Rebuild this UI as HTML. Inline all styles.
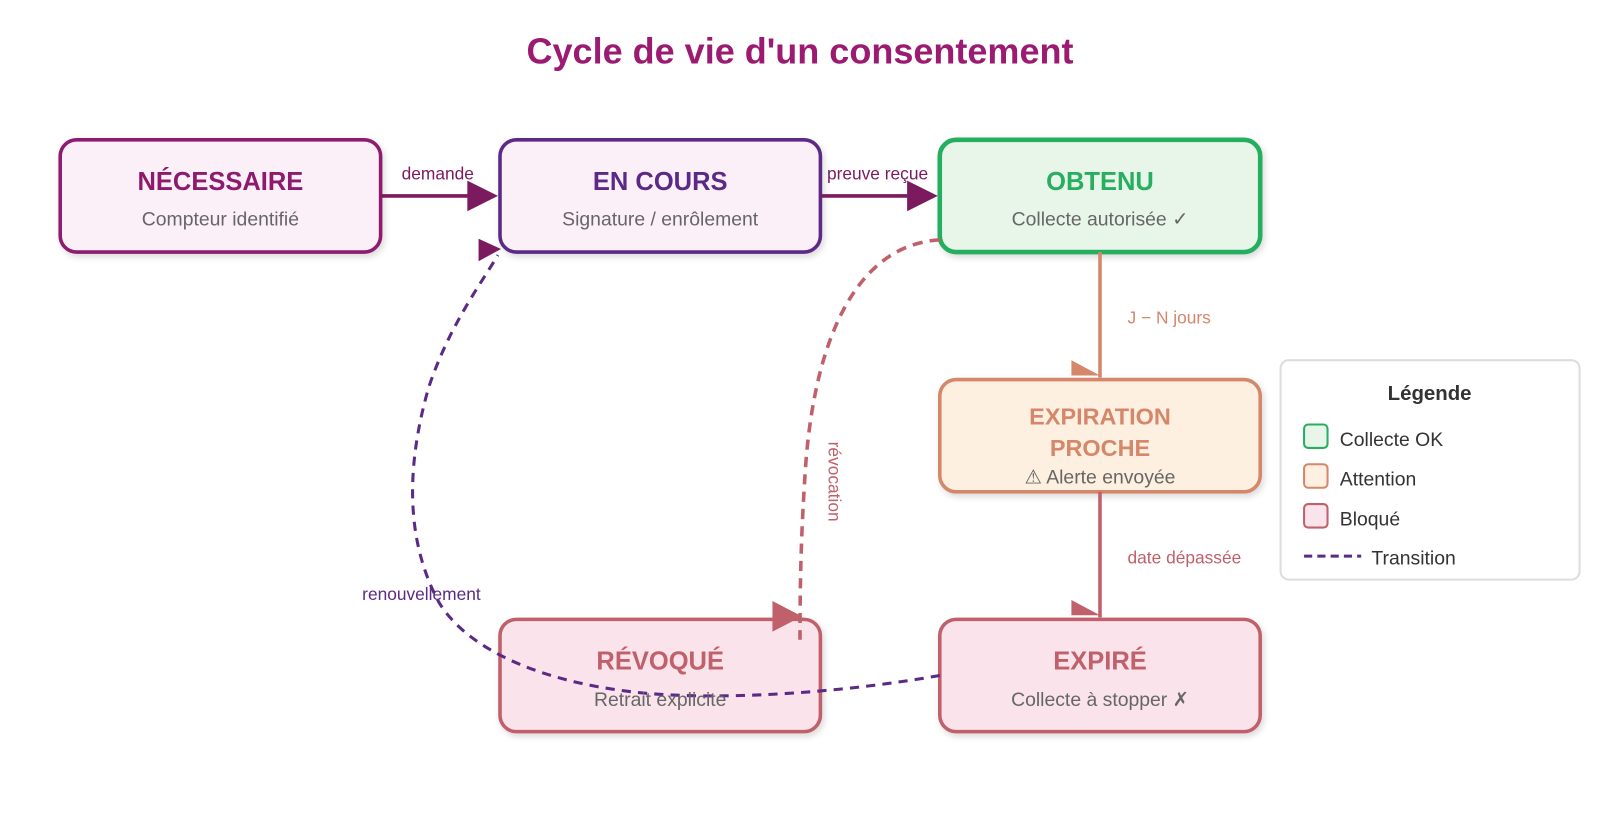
<!DOCTYPE html>
<html><head><meta charset="utf-8"><style>
body{margin:0;background:#fff;}
svg{display:block;font-family:"Liberation Sans",sans-serif;}
</style></head><body>
<svg width="1600" height="840" viewBox="0 0 1600 840">
<defs>
<filter id="sh" x="-10%" y="-10%" width="120%" height="130%"><feDropShadow dx="2" dy="3" stdDeviation="3" flood-opacity="0.15"/></filter>
</defs>
<g transform="scale(1.0204)">
<text x="784" y="62" text-anchor="middle" font-size="35.3" font-weight="bold" fill="#9b1b72">Cycle de vie d'un consentement</text>

<g filter="url(#sh)" stroke-width="3.5">
<rect x="59" y="137" width="314" height="110" rx="16" fill="#fcf0f8" stroke="#8e1a6e"/>
<rect x="490" y="137" width="314" height="110" rx="16" fill="#fcf0f8" stroke="#5b2a86"/>
<rect x="921" y="137" width="314" height="110" rx="16" fill="#e8f6ea" stroke="#27ae60" stroke-width="4.5"/>
<rect x="921" y="372" width="314" height="110" rx="16" fill="#fef0e0" stroke="#d4876a"/>
<rect x="490" y="607" width="314" height="110" rx="16" fill="#fae3ea" stroke="#c0606a"/>
<rect x="921" y="607" width="314" height="110" rx="16" fill="#fae3ea" stroke="#c0606a"/>
</g>
<g text-anchor="middle">
<text x="216" y="186" font-size="25" font-weight="bold" fill="#8e1a6e">NÉCESSAIRE</text>
<text x="216" y="221" font-size="19" fill="#666">Compteur identifié</text>
<text x="647" y="186" font-size="25" font-weight="bold" fill="#5b2a86">EN COURS</text>
<text x="647" y="221" font-size="19" fill="#666">Signature / enrôlement</text>
<text x="1078" y="186" font-size="25" font-weight="bold" fill="#27ae60">OBTENU</text>
<text x="1078" y="221" font-size="19" fill="#666">Collecte autorisée ✓</text>
<text x="1078" y="416" font-size="23" font-weight="bold" fill="#d4876a">EXPIRATION</text>
<text x="1078" y="447" font-size="23" font-weight="bold" fill="#d4876a">PROCHE</text>
<text x="1078" y="474" font-size="19" fill="#666">⚠ Alerte envoyée</text>
<text x="647" y="656" font-size="25" font-weight="bold" fill="#c0606a">RÉVOQUÉ</text>
<text x="1078" y="656" font-size="25" font-weight="bold" fill="#c0606a">EXPIRÉ</text>
<text x="1078" y="692" font-size="19" fill="#666">Collecte à stopper ✗</text>
</g>

<line x1="373" y1="192" x2="462" y2="192" stroke="#7b1a5e" stroke-width="3.5"/>
<polygon points="458,177 488,192 458,207" fill="#7b1a5e"/>
<text x="429" y="176" text-anchor="middle" font-size="17" fill="#7b1a5e">demande</text>
<line x1="804" y1="192" x2="893" y2="192" stroke="#7b1a5e" stroke-width="3.5"/>
<polygon points="889,177 919,192 889,207" fill="#7b1a5e"/>
<text x="860" y="176" text-anchor="middle" font-size="17" fill="#7b1a5e">preuve reçue</text>

<line x1="1078" y1="247" x2="1078" y2="370" stroke="#d4876a" stroke-width="3.5"/>
<polygon points="1050,353 1078,368 1050,368" fill="#d4876a"/>
<text x="1105" y="317" font-size="17" fill="#d4876a">J − N jours</text>
<line x1="1078" y1="482" x2="1078" y2="605" stroke="#c0606a" stroke-width="3.5"/>
<polygon points="1050,588 1078,603 1050,603" fill="#c0606a"/>
<text x="1105" y="552" font-size="17" fill="#c0606a">date dépassée</text>

<path d="M921,235 C840,240 800,330 790,450 C785,520 784,570 784,627" fill="none" stroke="#c0606a" stroke-width="3.5" stroke-dasharray="10,7"/>
<polygon points="757,589 786,604 757,619" fill="#c0606a"/>
<text x="812" y="472" font-size="17" fill="#c0606a" text-anchor="middle" transform="rotate(90 812 472)">révocation</text>

<path d="M921,662 C830,678 720,686 640,680 C540,672 460,640 430,590 C395,525 400,450 420,380 C440,320 470,280 488,250" fill="none" stroke="#5b2a86" stroke-width="3" stroke-dasharray="9,7"/>
<polygon points="469,234 491,244 469,256" fill="#7b1a5e"/>
<text x="413" y="588" text-anchor="middle" font-size="17" fill="#5b2a86">renouvellement</text>
<text x="647" y="692" text-anchor="middle" font-size="19" fill="#666">Retrait explicite</text>

<rect x="1255" y="353" width="293" height="215" rx="8" fill="#fff" stroke="#ddd" stroke-width="2"/>
<text x="1401" y="392" text-anchor="middle" font-size="20" font-weight="bold" fill="#333">Légende</text>
<rect x="1278" y="416" width="23" height="23" rx="4" fill="#e8f6ea" stroke="#27ae60" stroke-width="2"/>
<text x="1313" y="437" font-size="19" fill="#333">Collecte OK</text>
<rect x="1278" y="455" width="23" height="23" rx="4" fill="#fef0e0" stroke="#d4876a" stroke-width="2"/>
<text x="1313" y="476" font-size="19" fill="#333">Attention</text>
<rect x="1278" y="494" width="23" height="23" rx="4" fill="#fae3ea" stroke="#c0606a" stroke-width="2"/>
<text x="1313" y="515" font-size="19" fill="#333">Bloqué</text>
<line x1="1278" y1="545" x2="1334" y2="545" stroke="#5b2a86" stroke-width="3" stroke-dasharray="8,5"/>
<text x="1344" y="553" font-size="19" fill="#333">Transition</text>
</g>
</svg>
</body></html>
